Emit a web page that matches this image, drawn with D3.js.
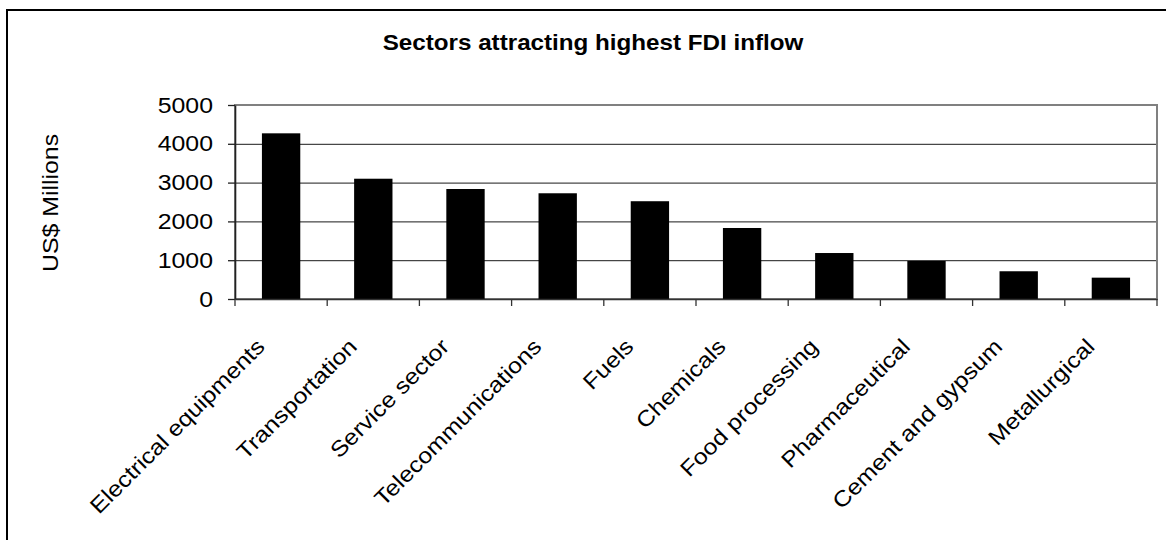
<!DOCTYPE html>
<html>
<head>
<meta charset="utf-8">
<script src="https://cdn.jsdelivr.net/npm/d3@7"></script>
<style>
  body { margin: 0; background: #fff; }
  svg { display: block; }
  text { font-family: "Liberation Sans", Arial, sans-serif; fill: #000; }
</style>
</head>
<body>
<svg id="chart" width="1166" height="540"></svg>
<script>
// FDI inflow by sector (US$ millions)
const sectors = [
  "Electrical equipments", "Transportation", "Service sector", "Telecommunications",
  "Fuels", "Chemicals", "Food processing", "Pharmaceutical", "Cement and gypsum", "Metallurgical"
];
const inflowMillions = [4270, 3100, 2835, 2725, 2520, 1830, 1185, 980, 715, 550];
const yTickValues = [0, 1000, 2000, 3000, 4000, 5000];
const chartTitle = "Sectors attracting highest FDI inflow";
const yAxisTitle = "US$ Millions";

const W = 1166, H = 540;
const plot = { left: 235, right: 1157, top: 105, bottom: 299 };
const widen = 1.13;          // horizontal glyph widening of the chart font
const fontSize = 22;

const svg = d3.select("#chart");
svg.append("rect").attr("width", W).attr("height", H).attr("fill", "#fff");

// chart frame (runs off the right and bottom edges)
svg.append("rect")
  .attr("x", 7).attr("y", 10).attr("width", W + 20).attr("height", H + 20)
  .attr("fill", "none").attr("stroke", "#000").attr("stroke-width", 2);

const x = d3.scaleBand().domain(sectors).range([plot.left, plot.right]).padding(0);
const y = d3.scaleLinear().domain([0, 5000]).range([plot.bottom, plot.top]);

// horizontal gridlines
svg.append("g")
  .attr("transform", `translate(${plot.left},0)`)
  .call(d3.axisLeft(y).tickValues(yTickValues.slice(1, -1))
        .tickSize(-(plot.right - plot.left)).tickFormat(""))
  .call(g => g.select(".domain").remove())
  .call(g => g.selectAll(".tick line").attr("stroke", "#1a1a1a").attr("stroke-width", 1));

// plot area border
svg.append("rect")
  .attr("x", plot.left).attr("y", plot.top)
  .attr("width", plot.right - plot.left).attr("height", plot.bottom - plot.top)
  .attr("fill", "none").attr("stroke", "#808080").attr("stroke-width", 2);

// bars
const barW = x.bandwidth() * 0.416;
svg.append("g").selectAll("rect")
  .data(sectors.map((s, i) => ({ s, v: inflowMillions[i] })))
  .join("rect")
  .attr("x", d => x(d.s) + (x.bandwidth() - barW) / 2)
  .attr("y", d => y(d.v))
  .attr("width", barW)
  .attr("height", d => y(0) - y(d.v))
  .attr("fill", "#000");

// y axis
svg.append("g")
  .attr("transform", `translate(${plot.left},0)`)
  .call(d3.axisLeft(y).tickValues(yTickValues).tickSize(7).tickSizeOuter(0).tickFormat(d3.format("d")))
  .call(g => g.select(".domain").attr("stroke", "#222").attr("stroke-width", 1.6))
  .call(g => g.selectAll(".tick line").attr("stroke", "#222").attr("stroke-width", 1.3))
  .call(g => g.selectAll(".tick text")
      .attr("x", null).attr("dy", null)
      .attr("transform", `translate(-22,7) scale(${widen},1)`)
      .attr("text-anchor", "end")
      .style("font-family", "'Liberation Sans', Arial, sans-serif")
      .style("font-size", fontSize + "px").attr("fill", "#000"));

// x axis: line, category labels, boundary ticks
const xAxis = svg.append("g")
  .attr("transform", `translate(0,${plot.bottom})`)
  .call(d3.axisBottom(x).tickSize(0).tickSizeOuter(0))
  .call(g => g.select(".domain").attr("stroke", "#333").attr("stroke-width", 1.6));

xAxis.selectAll(".tick text")
  .attr("y", null).attr("dy", null)
  .attr("transform", `translate(-15,49) rotate(-45) scale(${widen},1)`)
  .attr("text-anchor", "end")
  .style("font-family", "'Liberation Sans', Arial, sans-serif")
  .style("font-size", fontSize + "px").attr("fill", "#000");

const bounds = sectors.map(s => x(s)).concat([x.range()[1]]);
xAxis.append("g").selectAll("line")
  .data(bounds)
  .join("line")
  .attr("x1", d => d).attr("x2", d => d)
  .attr("y1", 0).attr("y2", 7)
  .attr("stroke", "#333").attr("stroke-width", 1.3);

// titles
svg.append("text")
  .attr("transform", `translate(593,49.5) scale(1.1,1)`)
  .attr("text-anchor", "middle")
  .style("font-size", fontSize + "px").style("font-weight", "bold")
  .text(chartTitle);

svg.append("text")
  .attr("transform", `translate(58,203) rotate(-90) scale(${widen},1)`)
  .attr("text-anchor", "middle")
  .style("font-size", fontSize + "px")
  .text(yAxisTitle);
</script>
</body>
</html>
